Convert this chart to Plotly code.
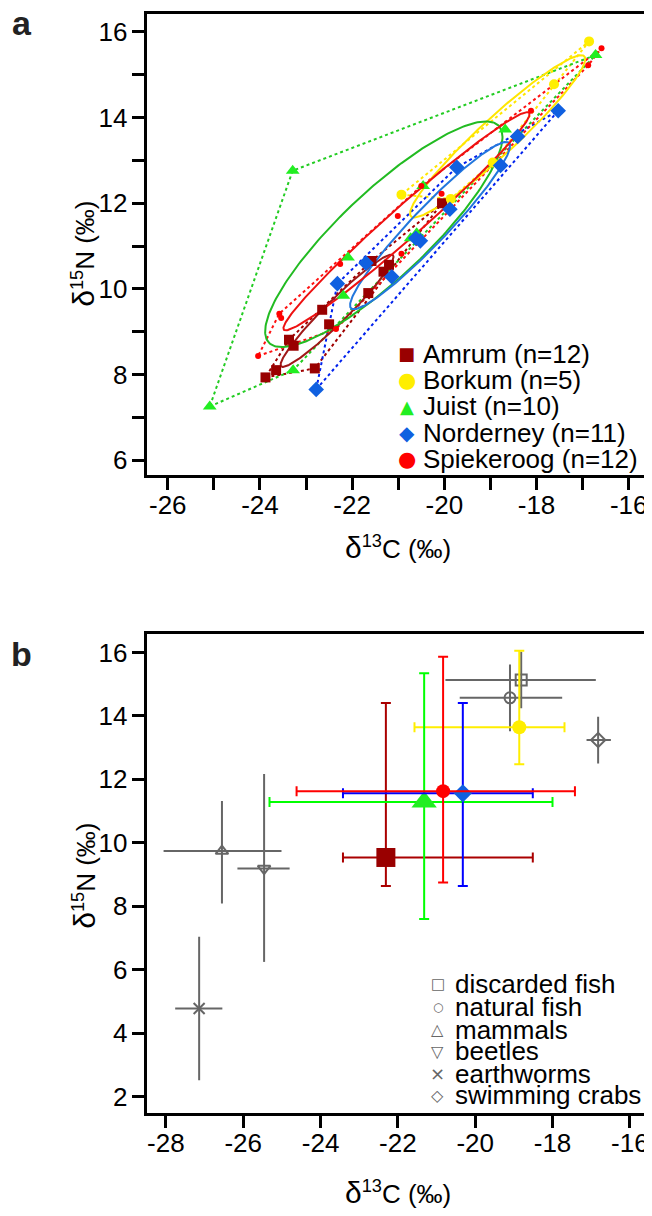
import numpy as np
import plotly.graph_objects as go

# The page body has an 8 px margin, so the figure is drawn 8 px in from the window's edge.
W, H = 644, 1208

# ---------------- Panel a data (individual samples) ----------------
islands = ["Amrum", "Borkum", "Juist", "Norderney", "Spiekeroog"]
legend_a = ["Amrum (n=12)", "Borkum (n=5)", "Juist (n=10)", "Norderney (n=11)", "Spiekeroog (n=12)"]

amrum_x = [-23.88, -23.65, -23.37, -23.27, -22.81, -22.65, -22.50, -21.65, -21.58, -21.32, -21.20, -20.05]
amrum_y = [7.93, 8.10, 8.81, 8.67, 8.14, 9.51, 9.17, 9.90, 10.65, 10.40, 10.56, 12.00]
borkum_x = [-16.86, -17.62, -18.95, -20.93, -19.86]
borkum_y = [15.78, 14.78, 12.95, 12.20, 12.10]
juist_x = [-25.09, -23.29, -23.28, -22.19, -22.09, -20.73, -20.60, -20.46, -18.68, -16.72]
juist_y = [7.25, 12.76, 8.10, 9.84, 10.73, 11.18, 11.30, 12.40, 13.72, 15.46]
norderney_x = [-22.78, -22.32, -21.70, -21.14, -20.62, -20.52, -19.88, -19.73, -18.78, -18.41, -17.53]
norderney_y = [7.65, 10.12, 10.60, 10.28, 11.18, 11.12, 11.86, 12.84, 12.88, 13.56, 14.16]
spiekeroog_x = [-16.59, -16.88, -18.12, -20.06, -21.01, -22.26, -23.58, -23.54, -24.04, -22.35, -20.93, -20.50]
spiekeroog_y = [15.62, 15.22, 14.16, 12.22, 11.70, 10.58, 9.42, 9.32, 8.43, 9.06, 10.82, 12.40]

# ---------------- Panel b data (means with ranges) ----------------
b_islands = ["Amrum", "Borkum", "Juist", "Norderney", "Spiekeroog"]
b_isl_x = [-22.31, -18.86, -21.32, -20.32, -20.83]
b_isl_y = [9.54, 13.64, 11.29, 11.56, 11.63]
b_isl_xlo = [-23.42, -21.57, -25.32, -23.42, -24.62]
b_isl_xhi = [-18.51, -17.69, -18.00, -18.51, -17.42]
b_isl_ylo = [8.64, 12.48, 7.60, 8.64, 8.75]
b_isl_yhi = [14.41, 16.05, 15.34, 14.41, 15.86]

sources = ["discarded fish", "natural fish", "mammals", "beetles", "earthworms", "swimming crabs"]
src_x = [-18.81, -19.10, -26.55, -25.46, -27.14, -16.82]
src_y = [15.13, 14.57, 9.74, 9.19, 4.78, 13.24]
src_xlo = [-20.77, -20.40, -28.06, -26.15, -27.76, -17.12]
src_xhi = [-16.88, -17.75, -25.01, -24.80, -26.54, -16.49]
src_ylo = [14.24, 13.52, 8.09, 6.25, 2.52, 12.50]
src_yhi = [16.02, 15.62, 11.32, 12.17, 7.04, 13.97]

# tick labels
a_xticks = [-26, -24, -22, -20, -18, -16]
a_yticks = [6, 8, 10, 12, 14, 16]
b_xticks = [-28, -26, -24, -22, -20, -18, -16]
b_yticks = [2, 4, 6, 8, 10, 12, 14, 16]

# ---------------- styles ----------------
mk_color = {"Amrum": "#990000", "Borkum": "#FFEE00", "Juist": "#22EE22",
            "Norderney": "#1060E0", "Spiekeroog": "#FF0000"}
ell_color = {"Amrum": "#A01818", "Borkum": "#FFE600", "Juist": "#22BB22",
             "Norderney": "#2277DD", "Spiekeroog": "#EE1111"}
hull_color = {"Amrum": "#A00000", "Borkum": "#FFE600", "Juist": "#22CC22",
              "Norderney": "#0022EE", "Spiekeroog": "#FF1111"}
mk_symbol = {"Amrum": "square", "Borkum": "circle", "Juist": "triangle-up",
             "Norderney": "diamond", "Spiekeroog": "circle"}
mk_size_a = {"Amrum": 10, "Borkum": 10, "Juist": 12, "Norderney": 12, "Spiekeroog": 6}
mk_size_b = {"Amrum": 19, "Borkum": 14, "Juist": 22, "Norderney": 14, "Spiekeroog": 14}
bar_color_b = {"Amrum": "#AA0000", "Borkum": "#FFEE00", "Juist": "#00FF00",
               "Norderney": "#0000FF", "Spiekeroog": "#FF0000"}
src_symbol = ["square-open", "circle-open", "triangle-up-open", "triangle-down-open",
              "x-thin-open", "diamond-open"]
GRAY = "#666666"

data_a = {"Amrum": (amrum_x, amrum_y), "Borkum": (borkum_x, borkum_y),
          "Juist": (juist_x, juist_y), "Norderney": (norderney_x, norderney_y),
          "Spiekeroog": (spiekeroog_x, spiekeroog_y)}


def convex_hull(xs, ys):
    pts = sorted(set(zip(xs, ys)))

    def cross(o, a, b):
        return (a[0] - o[0]) * (b[1] - o[1]) - (a[1] - o[1]) * (b[0] - o[0])
    lower, upper = [], []
    for p in pts:
        while len(lower) >= 2 and cross(lower[-2], lower[-1], p) <= 0:
            lower.pop()
        lower.append(p)
    for p in reversed(pts):
        while len(upper) >= 2 and cross(upper[-2], upper[-1], p) <= 0:
            upper.pop()
        upper.append(p)
    h = lower[:-1] + upper[:-1]
    h.append(h[0])
    return [p[0] for p in h], [p[1] for p in h]


def sea_c(xs, ys, npts=240):
    x = np.asarray(xs, float)
    y = np.asarray(ys, float)
    n = len(x)
    cov = np.cov(x, y)
    vals, vecs = np.linalg.eigh(cov)
    s = np.sqrt((n - 1) / (n - 2))
    t = np.linspace(0, 2 * np.pi, npts)
    circ = np.vstack([np.sqrt(vals[0]) * np.cos(t), np.sqrt(vals[1]) * np.sin(t)]) * s
    e = vecs @ circ
    return x.mean() + e[0], y.mean() + e[1]


fig = go.Figure()

# hulls (dotted)
for isl in islands:
    hx, hy = convex_hull(*data_a[isl])
    fig.add_trace(go.Scatter(x=hx, y=hy, mode="lines", xaxis="x", yaxis="y",
                             line=dict(color=hull_color[isl], width=2, dash="dot"),
                             showlegend=False, hoverinfo="skip"))
# ellipses (solid)
for isl in islands:
    ex, ey = sea_c(*data_a[isl])
    fig.add_trace(go.Scatter(x=ex, y=ey, mode="lines", xaxis="x", yaxis="y",
                             line=dict(color=ell_color[isl], width=2),
                             showlegend=False, hoverinfo="skip"))
# points
for isl, lab in zip(islands, legend_a):
    xs, ys = data_a[isl]
    fig.add_trace(go.Scatter(x=xs, y=ys, mode="markers", xaxis="x", yaxis="y", name=lab,
                             marker=dict(symbol=mk_symbol[isl], size=mk_size_a[isl],
                                         color=mk_color[isl], line=dict(width=0)),
                             showlegend=False))

# panel b: sources (gray)
for i, s in enumerate(sources):
    fig.add_trace(go.Scatter(
        x=[src_x[i]], y=[src_y[i]], mode="markers", xaxis="x2", yaxis="y2", name=s,
        marker=dict(symbol=src_symbol[i], size=11, color=GRAY, line=dict(width=2, color=GRAY)),
        error_x=dict(type="data", symmetric=False, array=[src_xhi[i] - src_x[i]],
                     arrayminus=[src_x[i] - src_xlo[i]], color=GRAY, thickness=2, width=0),
        error_y=dict(type="data", symmetric=False, array=[src_yhi[i] - src_y[i]],
                     arrayminus=[src_y[i] - src_ylo[i]], color=GRAY, thickness=2, width=0),
        showlegend=False))

# panel b: islands
for i, isl in enumerate(b_islands):
    fig.add_trace(go.Scatter(
        x=[b_isl_x[i]], y=[b_isl_y[i]], mode="markers", xaxis="x2", yaxis="y2", name=isl,
        marker=dict(symbol=mk_symbol[isl], size=mk_size_b[isl], color=mk_color[isl],
                    line=dict(width=0)),
        error_x=dict(type="data", symmetric=False, array=[b_isl_xhi[i] - b_isl_x[i]],
                     arrayminus=[b_isl_x[i] - b_isl_xlo[i]], color=bar_color_b[isl],
                     thickness=2, width=5),
        error_y=dict(type="data", symmetric=False, array=[b_isl_yhi[i] - b_isl_y[i]],
                     arrayminus=[b_isl_y[i] - b_isl_ylo[i]], color=bar_color_b[isl],
                     thickness=2, width=5),
        showlegend=False))

FONT = "Liberation Sans, Arial, sans-serif"
axis_common = dict(showline=True, linewidth=3, linecolor="black", mirror=True,
                   ticks="outside", ticklen=12, tickwidth=3, tickcolor="black",
                   showgrid=False, zeroline=False,
                   tickfont=dict(family=FONT, size=26, color="black"))


def fx(p):
    return p / W


def fy(p):
    return 1 - p / H


def lab(v):
    return str(v)  # plain hyphen-minus, as in the reference


fig.update_layout(
    width=W, height=H, margin=dict(l=0, r=0, t=0, b=0),
    paper_bgcolor="white", plot_bgcolor="white", showlegend=False,
    xaxis=dict(domain=[fx(139), fx(643)], range=[-26.46, -15.56], anchor="y",
               tickvals=a_xticks, ticktext=[lab(v) for v in a_xticks], ticklabelstandoff=-7,
               minor=dict(dtick=1, ticks="outside", ticklen=12, tickwidth=3, tickcolor="black"),
               **axis_common),
    yaxis=dict(domain=[fy(467), fy(6)], range=[5.65, 16.42], anchor="x",
               tickvals=a_yticks, ticktext=[lab(v) for v in a_yticks], ticklabelstandoff=-1,
               minor=dict(dtick=1, ticks="outside", ticklen=12, tickwidth=3, tickcolor="black"),
               **axis_common),
    xaxis2=dict(domain=[fx(139), fx(642)], range=[-28.5, -15.53], anchor="y2",
                tickvals=b_xticks, ticktext=[lab(v) for v in b_xticks], ticklabelstandoff=-7,
                **axis_common),
    yaxis2=dict(domain=[fy(1105), fy(626)], range=[1.49, 16.58], anchor="x2",
                tickvals=b_yticks, ticktext=[lab(v) for v in b_yticks], ticklabelstandoff=-1,
                **axis_common),
)

ann = []
xt = '<span style="font-size:30px">δ</span><sup>13</sup>C (‰)'
yt = '<span style="font-size:30px">δ</span><sup>15</sup>N (‰)'
for (xc, yc) in [(391, 540), (391, 1184)]:
    ann.append(dict(x=fx(xc), y=fy(yc), xref="paper", yref="paper", text=xt, showarrow=False,
                    xanchor="center", yanchor="middle", font=dict(family=FONT, size=26, color="black")))
for (xc, yc) in [(76, 246), (76, 868)]:
    ann.append(dict(x=fx(xc), y=fy(yc), xref="paper", yref="paper", text=yt, showarrow=False,
                    textangle=-90, xanchor="center", yanchor="middle",
                    font=dict(family=FONT, size=26, color="black")))
for t, yc in [("a", 15), ("b", 646)]:
    ann.append(dict(x=fx(14), y=fy(yc), xref="paper", yref="paper", text="<b>%s</b>" % t,
                    showarrow=False, xanchor="center", yanchor="middle",
                    font=dict(family=FONT, size=34, color="#222222")))

# legend panel a (glyph + text), placed in the axis' own units
glyph_a = {"Amrum": ("■", 18), "Borkum": ("●", 21), "Juist": ("▲", 18),
           "Norderney": ("◆", 20), "Spiekeroog": ("●", 21)}
rows_a = [8.48, 7.87, 7.26, 6.64, 6.02]
for isl, txt, yv in zip(islands, legend_a, rows_a):
    g, gs = glyph_a[isl]
    ann.append(dict(x=-20.82, y=yv, xref="x", yref="y", text=g, showarrow=False,
                    xanchor="center", yanchor="middle",
                    font=dict(family="DejaVu Sans", size=gs, color=mk_color[isl])))
    ann.append(dict(x=-20.50, y=yv, xref="x", yref="y", text=txt, showarrow=False,
                    xanchor="left", yanchor="middle", font=dict(family=FONT, size=26, color="black")))

# legend panel b
glyph_b = [("□", 15), ("○", 12), ("△", 16), ("▽", 16), ("×", 18), ("◇", 16)]
rows_b = [5.54, 4.83, 4.12, 3.44, 2.73, 2.05]
for (g, gs), s, yv in zip(glyph_b, sources, rows_b):
    ann.append(dict(x=-20.97, y=yv, xref="x2", yref="y2", text=g, showarrow=False,
                    xanchor="center", yanchor="middle",
                    font=dict(family="DejaVu Sans", size=gs, color=GRAY)))
    ann.append(dict(x=-20.58, y=yv, xref="x2", yref="y2", text=s, showarrow=False,
                    xanchor="left", yanchor="middle", font=dict(family=FONT, size=26, color="black")))

fig.update_layout(annotations=ann)
fig.write_html("out.html")
